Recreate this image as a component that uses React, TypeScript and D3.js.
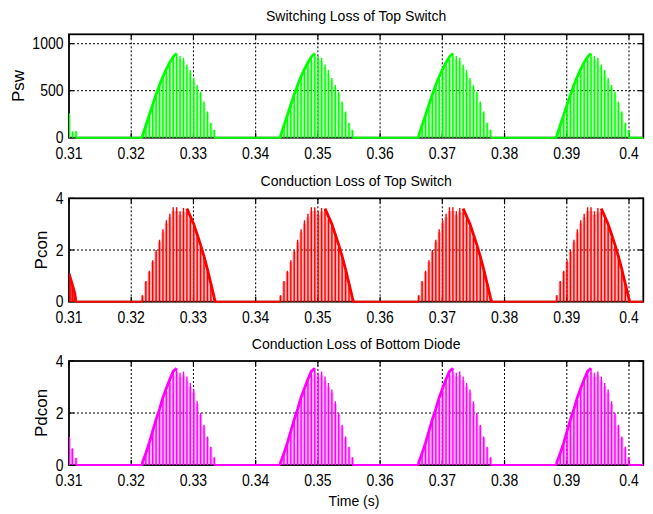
import React from "react";
import * as d3 from "d3";

// Loss pulse trains: one burst per fundamental half-cycle, one spike per switching period
const burstStarts = [0.3218, 0.344, 0.3662, 0.3884];
const spikeStep = 0.00055;

const pswPeaks = [20, 130, 240, 350, 460, 560, 650, 730, 800, 860, 895, 870, 850, 780, 720, 635, 560, 490, 385, 280, 160, 85];
const pconPeaks = [0.25, 0.8, 1.2, 1.6, 2.0, 2.4, 2.8, 3.15, 3.4, 3.65, 3.65, 3.5, 3.62, 3.6, 3.3, 3.0, 2.6, 2.2, 1.75, 1.25, 0.7, 0.15];
const pdconPeaks = [0.1, 0.45, 0.85, 1.3, 1.75, 2.15, 2.6, 2.95, 3.3, 3.6, 3.72, 3.55, 3.6, 3.4, 3.15, 2.9, 2.45, 2.0, 1.55, 1.1, 0.7, 0.3];

// End of the preceding burst, visible at the left edge
const pswTailTimes = [0.31005, 0.31059, 0.31113];
const pswTailValues = [260, 65, 70];
const pconTailTimes = [0.31, 0.3103, 0.3106, 0.3109, 0.3111];
const pconTailValues = [1.1, 0.85, 0.6, 0.35, 0.05];
const pdconTailTimes = [0.31005, 0.31053, 0.31113];
const pdconTailValues = [1.08, 0.64, 0.28];

const timeTicks = [0.31, 0.32, 0.33, 0.34, 0.35, 0.36, 0.37, 0.38, 0.39, 0.4];
const timeTickLabels = ["0.31", "0.32", "0.33", "0.34", "0.35", "0.36", "0.37", "0.38", "0.39", "0.4"];
const pswTicks = [0, 500, 1000];
const pconTicks = [0, 2, 4];
const pdconTicks = [0, 2, 4];

const W = 653;
const H = 514;
const left = 69;
const right = 643.3;
const timeDomain: [number, number] = [0.31, 0.4023];
const FONT = "'Liberation Sans', Arial, Helvetica, sans-serif";

type Panel = {
  title: string;
  ylabel: string;
  ylabelX: number;
  peaks: number[];
  tailT: number[];
  tailV: number[];
  tailBand: boolean;
  ticks: number[];
  yMax: number;
  color: string;
  bandFrom: number;
  bandTo: number;
  bandToZero: "start" | "end";
  top: number;
  bottom: number;
  titleY: number;
};

const panels: Panel[] = [
  {
    title: "Switching Loss of Top Switch",
    ylabel: "Psw",
    ylabelX: 24,
    peaks: pswPeaks,
    tailT: pswTailTimes,
    tailV: pswTailValues,
    tailBand: false,
    ticks: pswTicks,
    yMax: 1100,
    color: "#00ff00",
    bandFrom: 0,
    bandTo: 10,
    bandToZero: "start",
    top: 34.3,
    bottom: 137.7,
    titleY: 20.5,
  },
  {
    title: "Conduction Loss of Top Switch",
    ylabel: "Pcon",
    ylabelX: 46.7,
    peaks: pconPeaks,
    tailT: pconTailTimes,
    tailV: pconTailValues,
    tailBand: true,
    ticks: pconTicks,
    yMax: 4,
    color: "#ff0000",
    bandFrom: 13,
    bandTo: 21,
    bandToZero: "end",
    top: 198.3,
    bottom: 301.7,
    titleY: 186,
  },
  {
    title: "Conduction Loss of Bottom Diode",
    ylabel: "Pdcon",
    ylabelX: 46.7,
    peaks: pdconPeaks,
    tailT: pdconTailTimes,
    tailV: pdconTailValues,
    tailBand: false,
    ticks: pdconTicks,
    yMax: 4,
    color: "#ff00ff",
    bandFrom: 0,
    bandTo: 10,
    bandToZero: "start",
    top: 361,
    bottom: 465,
    titleY: 349,
  },
];

function Label({ x, y, anchor, size, dy, children }: { x: number; y: number; anchor: string; size: number; dy?: number; children: React.ReactNode }) {
  // tick labels are drawn slightly tall, like the plotting tool's narrow sans
  return (
    <text
      transform={`translate(${x},${y}) scale(1,1.12)`}
      dy={dy ?? 0}
      textAnchor={anchor as any}
      fontSize={size}
      fontFamily={FONT}
      fill="#000"
    >
      {children}
    </text>
  );
}

function PanelView({ p, idx, showXLabel }: { p: Panel; idx: number; showXLabel: boolean }) {
  const x = d3.scaleLinear().domain(timeDomain).range([left, right]);
  const y = d3.scaleLinear().domain([0, p.yMax]).range([p.bottom, p.top]);
  const line = d3
    .line<[number, number]>()
    .x((d) => x(d[0]))
    .y((d) => y(d[1]));
  const burstLen = (p.peaks.length - 1) * spikeStep;
  const clipId = `clip-${idx}`;

  // flat segments of the trace between bursts
  const gaps: [number, number][] = [];
  let cursor = p.tailT[p.tailT.length - 1];
  burstStarts.forEach((s) => {
    gaps.push([cursor, s]);
    cursor = s + burstLen;
  });
  gaps.push([cursor, timeDomain[1]]);

  const spikes: { t: number; v: number }[] = [];
  burstStarts.forEach((s) => p.peaks.forEach((v, i) => spikes.push({ t: s + i * spikeStep, v })));
  p.tailT.forEach((t, i) => spikes.push({ t, v: p.tailV[i] }));

  const bands: [number, number][][] = burstStarts.map((s) => {
    const pts: [number, number][] = [];
    if (p.bandToZero === "start") pts.push([s, 0]);
    for (let i = p.bandFrom; i <= p.bandTo; i++) pts.push([s + i * spikeStep, p.peaks[i]]);
    if (p.bandToZero === "end") pts.push([s + p.bandTo * spikeStep + spikeStep * 0.3, 0]);
    return pts;
  });
  if (p.tailBand) bands.push(p.tailT.map((t, i) => [t, p.tailV[i]] as [number, number]));

  const gridX = timeTicks.filter((t) => t > timeDomain[0]);
  const gridY = p.ticks.filter((v) => v > 0 && y(v) > p.top + 1);
  const tickLen = 5;

  return (
    <g>
      <defs>
        <clipPath id={clipId}>
          <rect x={left} y={p.top - 2} width={right - left} height={p.bottom - p.top + 4} />
        </clipPath>
      </defs>
      {/* grid */}
      {gridX.map((t) => (
        <line key={`gx${t}`} x1={x(t)} x2={x(t)} y1={p.top} y2={p.bottom} stroke="#000" strokeWidth={1} strokeDasharray="2,2" />
      ))}
      {gridY.map((v) => (
        <line key={`gy${v}`} x1={left} x2={right} y1={y(v)} y2={y(v)} stroke="#000" strokeWidth={1} strokeDasharray="2,2" />
      ))}
      {/* box */}
      <rect x={left} y={p.top} width={right - left} height={p.bottom - p.top} fill="none" stroke="#000" strokeWidth={1.8} />
      {/* ticks */}
      {timeTicks.map((t) => (
        <g key={`tx${t}`}>
          <line x1={x(t)} x2={x(t)} y1={p.bottom} y2={p.bottom - tickLen} stroke="#000" strokeWidth={1.2} />
          <line x1={x(t)} x2={x(t)} y1={p.top} y2={p.top + tickLen} stroke="#000" strokeWidth={1.2} />
        </g>
      ))}
      {p.ticks.map((v) => (
        <g key={`ty${v}`}>
          <line x1={left} x2={left + tickLen} y1={y(v)} y2={y(v)} stroke="#000" strokeWidth={1.2} />
          <line x1={right} x2={right - tickLen} y1={y(v)} y2={y(v)} stroke="#000" strokeWidth={1.2} />
        </g>
      ))}
      {/* trace */}
      <g clipPath={`url(#${clipId})`}>
        {gaps.map(([a, b], i) => (
          <line key={`gap${i}`} x1={x(a)} x2={x(b)} y1={y(0)} y2={y(0)} stroke={p.color} strokeWidth={2} />
        ))}
        {spikes.map((s, i) => (
          <line key={`sh${i}`} x1={x(s.t)} x2={x(s.t)} y1={y(0)} y2={y(s.v * 0.96)} stroke={p.color} strokeOpacity={0.35} strokeWidth={3.2} />
        ))}
        {spikes.map((s, i) => (
          <line key={`sp${i}`} x1={x(s.t)} x2={x(s.t)} y1={y(0)} y2={y(s.v)} stroke={p.color} strokeWidth={1.4} />
        ))}
        {bands.map((b, i) => (
          <path key={`band${i}`} d={line(b) || ""} fill="none" stroke={p.color} strokeWidth={2.8} strokeLinejoin="round" />
        ))}
      </g>
      {/* labels */}
      <text x={(left + right) / 2} y={p.titleY} textAnchor="middle" fontSize={14} fontFamily={FONT} fill="#000">
        {p.title}
      </text>
      {timeTicks.map((t, i) => (
        <Label key={`lx${t}`} x={x(t)} y={p.bottom + 21} anchor="middle" size={14}>
          {timeTickLabels[i]}
        </Label>
      ))}
      {p.ticks.map((v) => (
        <Label key={`ly${v}`} x={63.5} y={y(v) + 5.5} anchor="end" size={14}>
          {String(v)}
        </Label>
      ))}
      <text
        transform={`translate(${p.ylabelX},${(p.top + p.bottom) / 2}) rotate(-90)`}
        textAnchor="middle"
        fontSize={17}
        fontFamily={FONT}
        fill="#000"
      >
        {p.ylabel}
      </text>
      {showXLabel && (
        <text x={354} y={505.5} textAnchor="middle" fontSize={14} fontFamily={FONT} fill="#000">
          Time (s)
        </text>
      )}
    </g>
  );
}

export default function App() {
  return (
    <svg width={W} height={H} style={{ position: "absolute", left: 0, top: 0, background: "#fff" }}>
      <rect width={W} height={H} fill="#fff" />
      {panels.map((p, i) => (
        <PanelView key={p.ylabel} p={p} idx={i} showXLabel={i === panels.length - 1} />
      ))}
    </svg>
  );
}
